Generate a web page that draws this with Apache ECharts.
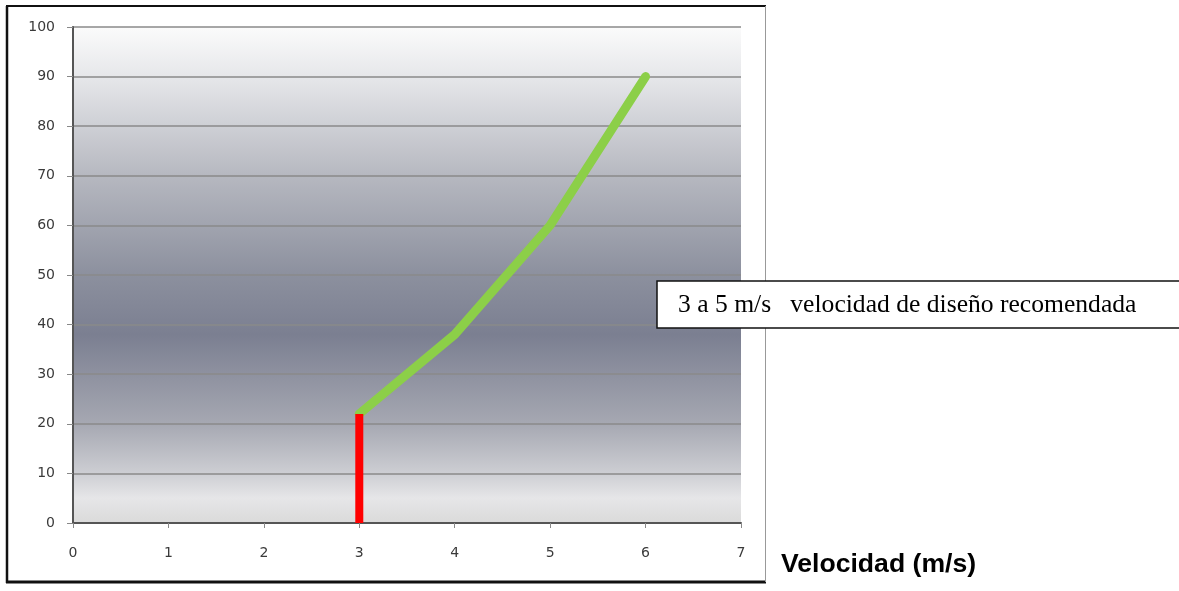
<!DOCTYPE html>
<html>
<head>
<meta charset="utf-8">
<script src="https://cdn.jsdelivr.net/npm/echarts@6/dist/echarts.min.js"></script>
<style>
html,body{margin:0;padding:0;background:#fff;}
#chart{width:1179px;height:591px;}
</style>
</head>
<body>
<div id="chart"></div>
<script>
// Data
const xTicks = [0, 1, 2, 3, 4, 5, 6, 7];
const yTicks = [0, 10, 20, 30, 40, 50, 60, 70, 80, 90, 100];
const speed = [3, 4, 5, 6];
const value = [22, 38, 60, 90];
const minSpeedX = [3, 3];
const minSpeedY = [0, 22];
const noteText = '3 a 5 m/s   velocidad de diseño recomendada';
const axisTitle = 'Velocidad (m/s)';

const chart = echarts.init(document.getElementById('chart'), null, {renderer: 'canvas'});

const greenData = speed.map((s, i) => [s, value[i]]);
const redData = minSpeedX.map((s, i) => [s, minSpeedY[i]]);

const labelFont = {fontFamily: 'DejaVu Sans', fontSize: 14, color: '#3a3a3a'};

chart.setOption({
  animation: false,
  grid: {
    left: 73, top: 27, width: 668, height: 496,
    show: true,
    borderWidth: 0,
    backgroundColor: new echarts.graphic.LinearGradient(0, 0, 0, 1, [
      {offset: 0, color: '#fbfbfb'},
      {offset: 0.1, color: '#e6e7ea'},
      {offset: 0.3, color: '#b6b8c0'},
      {offset: 0.5, color: '#8c909e'},
      {offset: 0.62, color: '#7b7f91'},
      {offset: 0.8, color: '#a6a8b2'},
      {offset: 0.9, color: '#cdced3'},
      {offset: 0.95, color: '#e6e6e8'},
      {offset: 1, color: '#dadada'}
    ])
  },
  xAxis: [{
    type: 'value', min: 0, max: 7, interval: 1,
    axisLine: {show: false},
    axisTick: {show: true, length: 5, lineStyle: {color: '#888', width: 1}},
    axisLabel: Object.assign({margin: 23, formatter: v => xTicks.includes(v) ? String(v) : ''}, labelFont),
    splitLine: {show: false}
  }, {
    type: 'value', min: 0, max: 7, position: 'top',
    axisLine: {show: true, lineStyle: {color: '#555', width: 2}},
    axisTick: {show: false}, axisLabel: {show: false}, splitLine: {show: false}
  }],
  yAxis: [{
    type: 'value', min: 0, max: 100, interval: 10,
    axisLine: {show: true, lineStyle: {color: '#999', width: 1.5}},
    axisTick: {show: true, length: 6, lineStyle: {color: '#888', width: 1}},
    axisLabel: Object.assign({margin: 18, formatter: v => yTicks.includes(v) ? String(v) : ''}, labelFont),
    splitLine: {show: true, lineStyle: {color: '#8a8a8a', width: 1.5}}
  }, {
    type: 'value', min: 0, max: 100, position: 'right',
    axisLine: {show: true, lineStyle: {color: '#555', width: 2}},
    axisTick: {show: false}, axisLabel: {show: false}, splitLine: {show: false}
  }],
  series: [{
    type: 'line',
    data: greenData,
    showSymbol: false,
    symbol: 'none',
    lineStyle: {color: '#8ccf48', width: 9, cap: 'round', join: 'round'},
    z: 3
  }, {
    type: 'line',
    data: redData,
    showSymbol: false,
    symbol: 'none',
    lineStyle: {color: '#ff0000', width: 8, cap: 'butt'},
    z: 4
  }],
  graphic: [
    // outer frame
    {type: 'line', shape: {x1: 7, y1: 6, x2: 7, y2: 583}, style: {stroke: '#111', lineWidth: 2.5}},
    {type: 'line', shape: {x1: 6, y1: 6, x2: 766, y2: 6}, style: {stroke: '#111', lineWidth: 2}},
    {type: 'line', shape: {x1: 6, y1: 582, x2: 766, y2: 582}, style: {stroke: '#111', lineWidth: 3}},
    {type: 'line', shape: {x1: 765.5, y1: 6, x2: 765.5, y2: 582}, style: {stroke: '#999', lineWidth: 1}},
    // note box
    {type: 'rect', shape: {x: 657, y: 281, width: 540, height: 47}, style: {fill: '#fff', stroke: '#111', lineWidth: 1.5}, z: 10},
    {type: 'text', x: 678, y: 305, z: 11, style: {text: noteText, fill: '#000', font: '25.6px "Liberation Serif"', verticalAlign: 'middle'}},
    // axis title
    {type: 'text', x: 781, y: 565, z: 11, style: {text: axisTitle, fill: '#000', font: 'bold 26.6px "Liberation Sans"', verticalAlign: 'middle'}}
  ]
});
</script>
</body>
</html>
